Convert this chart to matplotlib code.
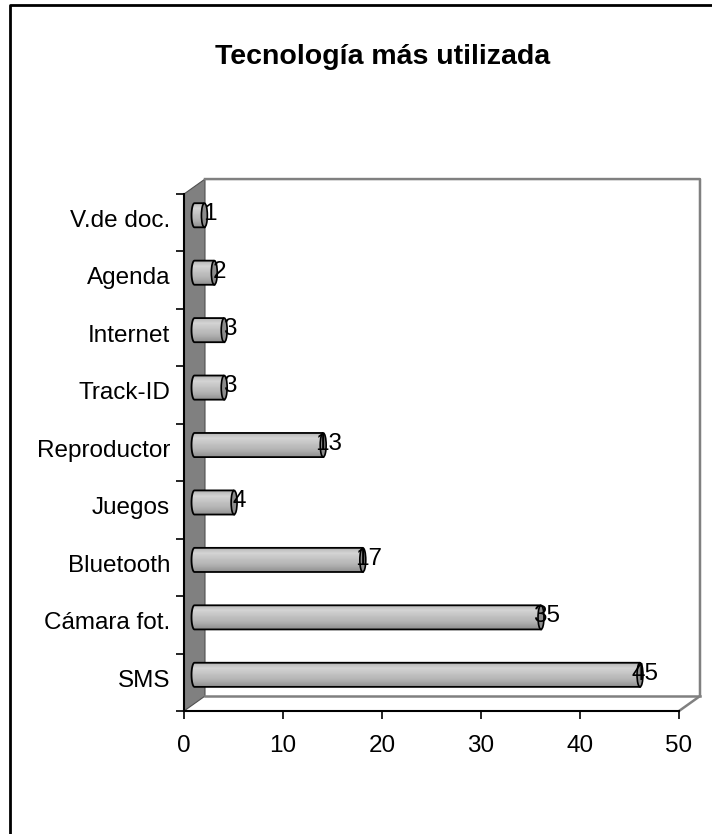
import matplotlib.pyplot as plt
import numpy as np
from matplotlib.patches import Polygon, Ellipse, PathPatch
from matplotlib.path import Path
from matplotlib.lines import Line2D

categorias = ['SMS', 'Cámara fot.', 'Bluetooth', 'Juegos', 'Reproductor',
              'Track-ID', 'Internet', 'Agenda', 'V.de doc.']
valores = [45, 35, 17, 4, 13, 3, 3, 2, 1]
xticks = [0, 10, 20, 30, 40, 50]

plt.rcParams['font.family'] = ['Liberation Sans', 'DejaVu Sans']

W, H = 712, 834
fig = plt.figure(figsize=(W / 100, H / 100), dpi=100)
ax = fig.add_axes([184 / W, 123 / H, 495 / W, 517 / H])
n = len(categorias)
xmax = xticks[-1]

# depth of the 3D box in data units
dx, dy = 2.12, 0.26
ytop = n - 0.5

# side wall
ax.add_patch(Polygon([(0, -0.5), (dx, -0.5 + dy), (dx, ytop + dy), (0, ytop)],
                     closed=True, facecolor='#808080', edgecolor='#505050',
                     lw=0.8, clip_on=False, zorder=1))
# back wall and floor outline
ax.add_line(Line2D([dx, xmax + dx, xmax + dx, xmax],
                   [ytop + dy, ytop + dy, -0.5 + dy, -0.5],
                   color='#808080', lw=1.8, clip_on=False, zorder=1))
ax.add_line(Line2D([dx, xmax + dx], [-0.5 + dy, -0.5 + dy],
                   color='#808080', lw=1.8, clip_on=False, zorder=1))

# cylinders
grad = np.array([0.70, 0.78, 0.83, 0.80, 0.77, 0.74, 0.72, 0.68, 0.63, 0.58])
r, a = 0.21, 0.3
t = np.linspace(np.pi / 2, 3 * np.pi / 2, 40)
for i, v in enumerate(valores):
    c = i + dy / 2
    x0 = dx / 2
    x1 = v + dx / 2
    verts = [(x1, c + r)] + [(x0 + a * np.cos(k), c + r * np.sin(k)) for k in t] \
        + [(x1, c - r), (x1, c + r)]
    body = PathPatch(Path(verts), facecolor='none', edgecolor='black',
                     lw=1.3, zorder=4)
    ax.add_patch(body)
    im = ax.imshow(grad[:, None], cmap='gray', vmin=0, vmax=1,
                   extent=[x0 - a, x1, c - r, c + r], aspect='auto',
                   origin='upper', interpolation='bilinear', zorder=3)
    im.set_clip_path(body)
    ax.add_patch(Ellipse((x1, c), 2 * a, 2 * r, facecolor='#8c8c8c',
                         edgecolor='black', lw=1.2, zorder=5))
    ax.text(x1 + 0.55, c + 0.02, str(v), ha='center', va='center',
            fontsize=17.5, zorder=6)
    ax.text(-1.4, i + 0.03, categorias[i], ha='right', va='center',
            fontsize=17.5)

ax.set_xlim(0, xmax)
ax.set_ylim(-0.5, ytop)
ax.set_xticks(xticks)
ax.set_yticks(np.arange(-0.5, n, 1))
ax.set_yticklabels([])
ax.tick_params(axis='both', direction='out', length=6, width=1.2,
               labelsize=17.5)
ax.tick_params(axis='x', pad=11.5)
for s in ['top', 'right']:
    ax.spines[s].set_visible(False)
for s in ['left', 'bottom']:
    ax.spines[s].set_linewidth(1.5)
    ax.spines[s].set_zorder(2)
ax.patch.set_visible(False)

fig.text(383 / W, 1 - 64 / H, 'Tecnología más utilizada', ha='center',
         va='baseline', fontsize=20.5, fontweight='bold')

# chart area border
fig.add_artist(Line2D([10 / W, 10 / W, 1], [0, 1 - 5 / H, 1 - 5 / H],
                      color='black', lw=2))

fig.savefig('out.png', dpi=100)
